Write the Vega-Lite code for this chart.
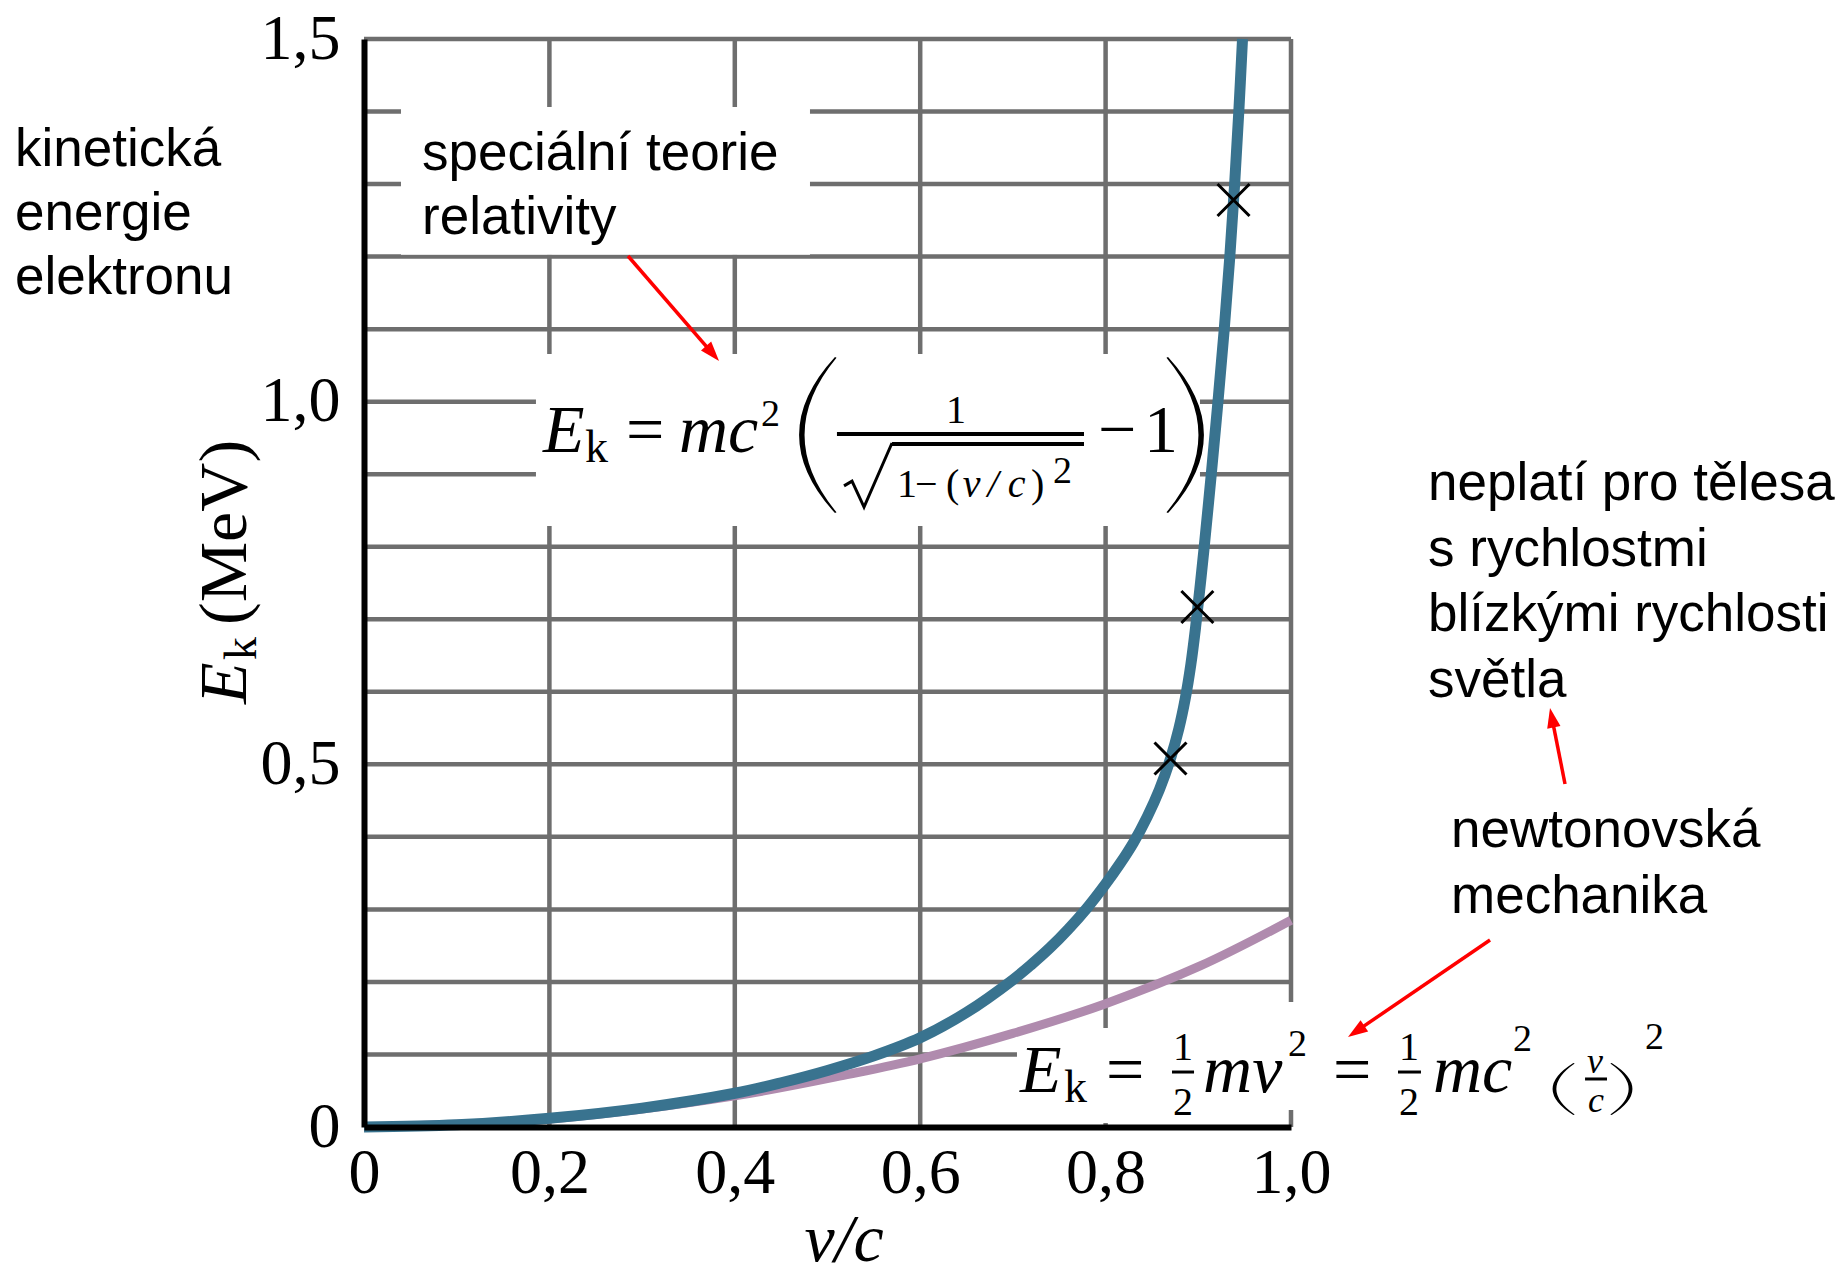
{
  "$schema": "https://vega.github.io/schema/vega-lite/v6.json",
  "width": 927,
  "height": 1088,
  "autosize": {"type": "none"},
  "padding": {"left": 364, "top": 39, "right": 548, "bottom": 151},
  "background": "white",
  "config": {"view": {"stroke": null}},
  "data": {"values": [{}]},
  "datasets": {
    "gridH": [{"y":0.1},{"y":0.2},{"y":0.3},{"y":0.4},{"y":0.5},{"y":0.6},{"y":0.7},{"y":0.8},{"y":0.9},{"y":1.0},{"y":1.1},{"y":1.2},{"y":1.3},{"y":1.4},{"y":1.5}],
    "gridV": [{"x":0.2},{"x":0.4},{"x":0.6},{"x":0.8},{"x":1.0}],
    "boxes": [
      {"x":0.0399,"x2":0.4811,"y":1.2025,"y2":1.4063},
      {"x":0.1855,"x2":0.9018,"y":0.8286,"y2":1.0657},
      {"x":0.7044,"x2":0.99,"y":0.0055,"y2":0.1365},
      {"x":0.9558,"x2":1.0094,"y":0.0234,"y2":0.1723}
    ],
    "blue": [
      {"v":0,"e":0},{"v":0.1,"e":0.003},{"v":0.2,"e":0.012},{"v":0.3,"e":0.026},{"v":0.4,"e":0.0465},
      {"v":0.45,"e":0.061},{"v":0.5,"e":0.078},{"v":0.55,"e":0.098},{"v":0.6,"e":0.123},{"v":0.65,"e":0.158},
      {"v":0.7,"e":0.203},{"v":0.72,"e":0.224},{"v":0.74,"e":0.247},{"v":0.76,"e":0.273},{"v":0.78,"e":0.302},
      {"v":0.8,"e":0.335},{"v":0.815,"e":0.362},{"v":0.83,"e":0.392},{"v":0.845,"e":0.428},{"v":0.858,"e":0.465},
      {"v":0.8705,"e":0.51},{"v":0.879,"e":0.549},{"v":0.886,"e":0.591},{"v":0.892,"e":0.638},{"v":0.897,"e":0.688},
      {"v":0.9015,"e":0.74},{"v":0.906,"e":0.795},{"v":0.914,"e":0.9},{"v":0.9212,"e":1.0},{"v":0.928,"e":1.1},
      {"v":0.934,"e":1.2},{"v":0.9392,"e":1.3},{"v":0.9437,"e":1.4},{"v":0.9477,"e":1.5}
    ],
    "purple": [
      {"v":0,"e":0},{"v":0.2,"e":0.011},{"v":0.4,"e":0.043},{"v":0.524,"e":0.073},{"v":0.6,"e":0.094},
      {"v":0.7,"e":0.129},{"v":0.8,"e":0.17},{"v":0.902,"e":0.222},{"v":1.0,"e":0.285}
    ],
    "crosses": [{"v":0.870,"e":0.508},{"v":0.899,"e":0.717},{"v":0.938,"e":1.278}],
    "arrows": [
      {"x":0.2848,"y":1.2008,"x2":0.3744,"y2":1.0686},
      {"x":1.2956,"y":0.4729,"x2":1.2819,"y2":0.5614},
      {"x":1.2147,"y":0.2578,"x2":1.0722,"y2":0.1335}
    ],
    "sans": [
      {"t":"kinetická","x":-0.3765,"y":1.3244},
      {"t":"energie","x":-0.3765,"y":1.2362},
      {"t":"elektronu","x":-0.3765,"y":1.1479},
      {"t":"speciální teorie","x":0.0626,"y":1.3194},
      {"t":"relativity","x":0.0626,"y":1.2312},
      {"t":"neplatí pro tělesa","x":1.1478,"y":0.8644},
      {"t":"s rychlostmi","x":1.1478,"y":0.7734},
      {"t":"blízkými rychlosti","x":1.1478,"y":0.6838},
      {"t":"světla","x":1.1478,"y":0.5928},
      {"t":"newtonovská","x":1.1726,"y":0.3854},
      {"t":"mechanika","x":1.1726,"y":0.2944}
    ],
    "mathItal": [
      {"t":"E","x":0.1931,"y":0.9306},
      {"t":"mc","x":0.3398,"y":0.9306},
      {"t":"E","x":0.7077,"y":0.04825},
      {"t":"mv","x":0.9051,"y":0.04825},
      {"t":"mc","x":1.1532,"y":0.04825}
    ],
    "mathUp": [
      {"t":"=","x":0.2826,"y":0.9306},
      {"t":"−","x":0.7918,"y":0.9306},
      {"t":"1","x":0.8414,"y":0.9306},
      {"t":"=","x":0.8004,"y":0.04825},
      {"t":"=","x":1.0453,"y":0.04825}
    ],
    "mathSub": [
      {"t":"k","x":0.2384,"y":0.9168},
      {"t":"k","x":0.7551,"y":0.0345}
    ],
    "mathSmall": [
      {"t":"1","x":0.6278,"y":0.9706},
      {"t":"1","x":0.575,"y":0.8686},
      {"t":"−","x":0.5944,"y":0.8686},
      {"t":"(","x":0.6278,"y":0.8686},
      {"t":")","x":0.7195,"y":0.8686},
      {"t":"1","x":0.8727,"y":0.0924},
      {"t":"2","x":0.8727,"y":0.0165},
      {"t":"1","x":1.1165,"y":0.0924},
      {"t":"2","x":1.1165,"y":0.0165}
    ],
    "mathSup": [
      {"t":"2","x":0.4283,"y":0.9665},
      {"t":"2","x":0.7433,"y":0.8879},
      {"t":"2","x":0.9968,"y":0.098},
      {"t":"2","x":1.2395,"y":0.105},
      {"t":"2","x":1.3819,"y":0.108}
    ],
    "mathSmallItal": [
      {"t":"v","x":0.6459,"y":0.8686},
      {"t":"/","x":0.6725,"y":0.8686},
      {"t":"c","x":0.6945,"y":0.8686}
    ],
    "fracItal": [
      {"t":"v","x":1.3193,"y":0.0745},
      {"t":"c","x":1.3204,"y":0.0207}
    ],
    "barsBig": [
      {"x":0.5102,"x2":0.7767,"y":0.9554},
      {"x":0.5696,"x2":0.7767,"y":0.9417}
    ],
    "barsSmall": [
      {"x":0.8716,"x2":0.8954,"y":0.0758},
      {"x":1.1154,"x2":1.1402,"y":0.0758},
      {"x":1.3172,"x2":1.3409,"y":0.0662}
    ]
  },
  "layer": [
    {
      "data": {"name": "gridH"},
      "mark": {"type": "rule", "color": "#6e6e6e", "strokeWidth": 4.5},
      "encoding": {
        "y": {"field": "y", "type": "quantitative", "title": null,
          "scale": {"domain": [0, 1.5], "nice": false, "zero": false},
          "axis": {"values": [0, 0.5, 1, 1.5], "labelExpr": "datum.value == 0 ? '0' : replace(format(datum.value, '.1f'), '.', ',')",
            "title": null, "grid": false, "ticks": false, "tickSize": 0, "labelPadding": 24, "labelFont": "Liberation Serif",
            "labelFontSize": 64, "labelColor": "black", "domainColor": "black", "domainWidth": 6, "zindex": 1,
            "labelFlush": false, "labelOverlap": false}},
        "x": {"datum": 0, "type": "quantitative", "title": null},
        "x2": {"datum": 1}
      }
    },
    {
      "data": {"name": "gridV"},
      "mark": {"type": "rule", "color": "#6e6e6e", "strokeWidth": 4.5},
      "encoding": {
        "x": {"field": "x", "type": "quantitative", "title": null,
          "scale": {"domain": [0, 1], "nice": false, "zero": false},
          "axis": {"values": [0, 0.2, 0.4, 0.6, 0.8, 1], "labelExpr": "datum.value == 0 ? '0' : replace(format(datum.value, '.1f'), '.', ',')",
            "title": null, "grid": false, "ticks": false, "tickSize": 0, "labelPadding": 14, "labelFont": "Liberation Serif",
            "labelFontSize": 64, "labelColor": "black", "domainColor": "black", "domainWidth": 6, "zindex": 1,
            "labelFlush": false, "labelOverlap": false}},
        "y": {"datum": 0, "type": "quantitative", "title": null},
        "y2": {"datum": 1.5}
      }
    },
    {
      "data": {"name": "boxes"},
      "mark": {"type": "rect", "fill": "white", "stroke": null},
      "encoding": {
        "x": {"field": "x", "type": "quantitative", "title": null},
        "x2": {"field": "x2"},
        "y": {"field": "y", "type": "quantitative", "title": null},
        "y2": {"field": "y2"}
      }
    },
    {
      "data": {"name": "purple"},
      "mark": {"type": "line", "color": "#b08bae", "strokeWidth": 9, "interpolate": "catmull-rom", "strokeCap": "butt"},
      "encoding": {
        "x": {"field": "v", "type": "quantitative", "title": null},
        "y": {"field": "e", "type": "quantitative", "title": null}
      }
    },
    {
      "data": {"name": "blue"},
      "mark": {"type": "line", "color": "#39738f", "strokeWidth": 11, "interpolate": "catmull-rom", "strokeCap": "butt"},
      "encoding": {
        "x": {"field": "v", "type": "quantitative", "title": null},
        "y": {"field": "e", "type": "quantitative", "title": null}
      }
    },
    {
      "data": {"name": "crosses"},
      "mark": {"type": "point", "shape": "M-1,-1L1,1M-1,1L1,-1", "size": 1024, "filled": false, "color": "black", "strokeWidth": 3, "opacity": 1},
      "encoding": {
        "x": {"field": "v", "type": "quantitative", "title": null},
        "y": {"field": "e", "type": "quantitative", "title": null}
      }
    },
    {
      "data": {"name": "arrows"},
      "mark": {"type": "rule", "color": "#ff0000", "strokeWidth": 3.5},
      "encoding": {
        "x": {"field": "x", "type": "quantitative", "title": null},
        "y": {"field": "y", "type": "quantitative", "title": null},
        "x2": {"field": "x2"},
        "y2": {"field": "y2"}
      }
    },
    {
      "mark": {"type": "point", "shape": "M0,0L-0.75,2.2L0.75,2.2Z", "size": 324, "filled": true, "color": "#ff0000", "opacity": 1, "angle": 139.1},
      "encoding": {"x": {"datum": 0.383, "type": "quantitative", "title": null}, "y": {"datum": 1.0561, "type": "quantitative", "title": null}}
    },
    {
      "mark": {"type": "point", "shape": "M0,0L-0.75,2.2L0.75,2.2Z", "size": 324, "filled": true, "color": "#ff0000", "opacity": 1, "angle": 348.8},
      "encoding": {"x": {"datum": 1.2794, "type": "quantitative", "title": null}, "y": {"datum": 0.5777, "type": "quantitative", "title": null}}
    },
    {
      "mark": {"type": "point", "shape": "M0,0L-0.75,2.2L0.75,2.2Z", "size": 324, "filled": true, "color": "#ff0000", "opacity": 1, "angle": 235.7},
      "encoding": {"x": {"datum": 1.0615, "type": "quantitative", "title": null}, "y": {"datum": 0.1241, "type": "quantitative", "title": null}}
    },
    {
      "data": {"name": "sans"},
      "mark": {"type": "text", "font": "Liberation Sans", "fontSize": 53, "align": "left", "baseline": "alphabetic", "color": "black"},
      "encoding": {
        "x": {"field": "x", "type": "quantitative", "title": null},
        "y": {"field": "y", "type": "quantitative", "title": null},
        "text": {"field": "t"}
      }
    },
    {
      "data": {"name": "mathItal"},
      "mark": {"type": "text", "font": "Liberation Serif", "fontStyle": "italic", "fontSize": 68, "align": "left", "baseline": "alphabetic", "color": "black"},
      "encoding": {
        "x": {"field": "x", "type": "quantitative", "title": null},
        "y": {"field": "y", "type": "quantitative", "title": null},
        "text": {"field": "t"}
      }
    },
    {
      "data": {"name": "mathUp"},
      "mark": {"type": "text", "font": "Liberation Serif", "fontSize": 68, "align": "left", "baseline": "alphabetic", "color": "black"},
      "encoding": {
        "x": {"field": "x", "type": "quantitative", "title": null},
        "y": {"field": "y", "type": "quantitative", "title": null},
        "text": {"field": "t"}
      }
    },
    {
      "data": {"name": "mathSub"},
      "mark": {"type": "text", "font": "Liberation Serif", "fontSize": 46, "align": "left", "baseline": "alphabetic", "color": "black"},
      "encoding": {
        "x": {"field": "x", "type": "quantitative", "title": null},
        "y": {"field": "y", "type": "quantitative", "title": null},
        "text": {"field": "t"}
      }
    },
    {
      "data": {"name": "mathSmall"},
      "mark": {"type": "text", "font": "Liberation Serif", "fontSize": 40, "align": "left", "baseline": "alphabetic", "color": "black"},
      "encoding": {
        "x": {"field": "x", "type": "quantitative", "title": null},
        "y": {"field": "y", "type": "quantitative", "title": null},
        "text": {"field": "t"}
      }
    },
    {
      "data": {"name": "mathSup"},
      "mark": {"type": "text", "font": "Liberation Serif", "fontSize": 38, "align": "left", "baseline": "alphabetic", "color": "black"},
      "encoding": {
        "x": {"field": "x", "type": "quantitative", "title": null},
        "y": {"field": "y", "type": "quantitative", "title": null},
        "text": {"field": "t"}
      }
    },
    {
      "data": {"name": "mathSmallItal"},
      "mark": {"type": "text", "font": "Liberation Serif", "fontStyle": "italic", "fontSize": 40, "align": "left", "baseline": "alphabetic", "color": "black"},
      "encoding": {
        "x": {"field": "x", "type": "quantitative", "title": null},
        "y": {"field": "y", "type": "quantitative", "title": null},
        "text": {"field": "t"}
      }
    },
    {
      "data": {"name": "fracItal"},
      "mark": {"type": "text", "font": "Liberation Serif", "fontStyle": "italic", "fontSize": 36, "align": "left", "baseline": "alphabetic", "color": "black"},
      "encoding": {
        "x": {"field": "x", "type": "quantitative", "title": null},
        "y": {"field": "y", "type": "quantitative", "title": null},
        "text": {"field": "t"}
      }
    },
    {
      "data": {"name": "barsBig"},
      "mark": {"type": "rule", "color": "black", "strokeWidth": 4},
      "encoding": {
        "x": {"field": "x", "type": "quantitative", "title": null},
        "x2": {"field": "x2"},
        "y": {"field": "y", "type": "quantitative", "title": null}
      }
    },
    {
      "data": {"name": "barsSmall"},
      "mark": {"type": "rule", "color": "black", "strokeWidth": 3},
      "encoding": {
        "x": {"field": "x", "type": "quantitative", "title": null},
        "x2": {"field": "x2"},
        "y": {"field": "y", "type": "quantitative", "title": null}
      }
    },
    {
      "mark": {"type": "point", "shape": "M0.23,-1Q-0.69,0 0.23,1L0.25,0.99Q-0.57,0 0.25,-0.99Z", "size": 24336, "filled": true, "color": "black", "opacity": 1},
      "encoding": {"x": {"datum": 0.4887, "type": "quantitative", "title": null}, "y": {"datum": 0.954, "type": "quantitative", "title": null}}
    },
    {
      "mark": {"type": "point", "shape": "M-0.23,-1Q0.69,0 -0.23,1L-0.25,0.99Q0.57,0 -0.25,-0.99Z", "size": 24336, "filled": true, "color": "black", "opacity": 1},
      "encoding": {"x": {"datum": 0.8867, "type": "quantitative", "title": null}, "y": {"datum": 0.954, "type": "quantitative", "title": null}}
    },
    {
      "mark": {"type": "point", "shape": "M0.4,-1Q-1.2,0 0.4,1L0.45,0.98Q-0.96,0 0.45,-0.98Z", "size": 2704, "filled": true, "color": "black", "opacity": 1},
      "encoding": {"x": {"datum": 1.2934, "type": "quantitative", "title": null}, "y": {"datum": 0.0524, "type": "quantitative", "title": null}}
    },
    {
      "mark": {"type": "point", "shape": "M-0.4,-1Q1.2,0 -0.4,1L-0.45,0.98Q0.96,0 -0.45,-0.98Z", "size": 2704, "filled": true, "color": "black", "opacity": 1},
      "encoding": {"x": {"datum": 1.3571, "type": "quantitative", "title": null}, "y": {"datum": 0.0524, "type": "quantitative", "title": null}}
    },
    {
      "mark": {"type": "point", "shape": "M-1.5,1.34L-1.25,1.19L-0.875,2L0,0", "size": 4096, "filled": false, "color": "black", "strokeWidth": 3, "opacity": 1},
      "encoding": {"x": {"datum": 0.5696, "type": "quantitative", "title": null}, "y": {"datum": 0.943, "type": "quantitative", "title": null}}
    },
    {
      "mark": {"type": "text", "text": "E", "font": "Liberation Serif", "fontStyle": "italic", "fontSize": 68, "angle": 270, "align": "left", "baseline": "alphabetic", "color": "black"},
      "encoding": {"x": {"datum": -0.1273, "type": "quantitative", "title": null}, "y": {"datum": 0.5832, "type": "quantitative", "title": null}}
    },
    {
      "mark": {"type": "text", "text": "k", "font": "Liberation Serif", "fontSize": 46, "angle": 270, "align": "left", "baseline": "alphabetic", "color": "black"},
      "encoding": {"x": {"datum": -0.1165, "type": "quantitative", "title": null}, "y": {"datum": 0.6438, "type": "quantitative", "title": null}}
    },
    {
      "mark": {"type": "text", "text": "(MeV)", "font": "Liberation Serif", "fontSize": 68, "angle": 270, "align": "left", "baseline": "alphabetic", "color": "black"},
      "encoding": {"x": {"datum": -0.1273, "type": "quantitative", "title": null}, "y": {"datum": 0.6921, "type": "quantitative", "title": null}}
    },
    {
      "mark": {"type": "text", "text": "v/c", "font": "Liberation Serif", "fontStyle": "italic", "fontSize": 68, "align": "center", "baseline": "alphabetic", "color": "black"},
      "encoding": {"x": {"datum": 0.5178, "type": "quantitative", "title": null}, "y": {"datum": -0.1847, "type": "quantitative", "title": null}}
    }
  ]
}
